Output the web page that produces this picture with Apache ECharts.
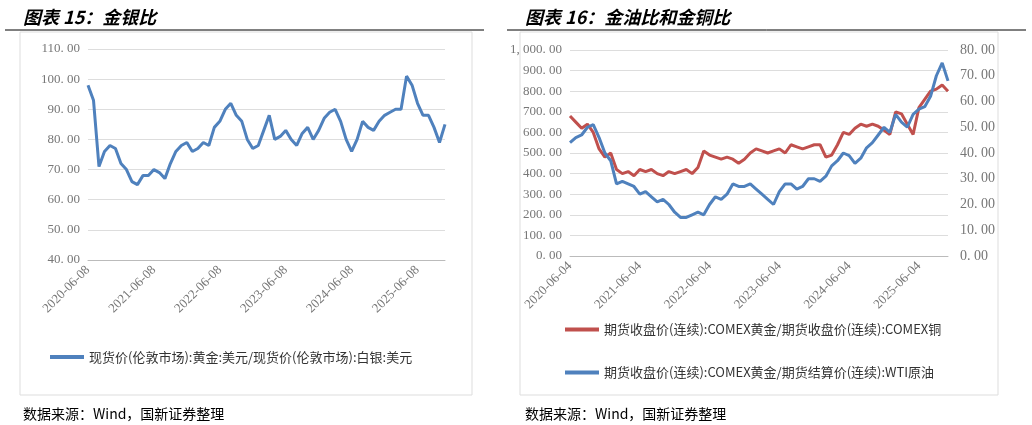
<!DOCTYPE html>
<html><head><meta charset="utf-8">
<script src="https://cdn.jsdelivr.net/npm/echarts@6/dist/echarts.min.js"></script>
<style>body{margin:0;background:#fff}#c{width:1032px;height:425px}</style>
</head><body><div id="c"></div>
<script>
// 月度日期
var months = [];
for (var y = 2020; y <= 2025; y++) {
    for (var m = 1; m <= 12; m++) {
        if ((y == 2020 && m < 6) || (y == 2025 && m > 11)) continue;
        months.push(y + '-' + (m < 10 ? '0' + m : m));
    }
}
var dates15 = months.map(function (d) { return d + '-08'; });
var dates16 = months.map(function (d) { return d + '-04'; });

// 金银比
var goldSilver = [98, 93, 71, 76, 78, 77, 72, 70, 66, 65, 68, 68, 70, 69, 67, 72, 76, 78, 79, 76, 77, 79, 78, 84, 86, 90, 92, 88, 86, 80, 77, 78, 83, 88, 80, 81, 83, 80, 78, 82, 84, 80, 83, 87, 89, 90, 86, 80, 76, 80, 86, 84, 83, 86, 88, 89, 90, 90, 101, 98, 92, 88, 88, 84, 79, 85];
// 金铜比（左轴）
var goldCopper = [680, 650, 620, 640, 600, 520, 480, 500, 420, 400, 410, 390, 420, 410, 420, 400, 390, 410, 400, 410, 420, 400, 430, 510, 490, 480, 470, 480, 470, 450, 470, 500, 520, 510, 500, 510, 520, 500, 540, 530, 520, 530, 540, 540, 480, 490, 540, 600, 590, 620, 640, 630, 640, 630, 610, 590, 700, 690, 640, 590, 720, 760, 800, 810, 830, 800];
// 金油比（右轴）
var goldOil = [44, 46, 47, 50, 51, 46, 40, 37, 28, 29, 28, 27, 24, 25, 23, 21, 22, 20, 17, 15, 15, 16, 17, 16, 20, 23, 22, 24, 28, 27, 27, 28, 26, 24, 22, 20, 25, 28, 28, 26, 27, 30, 30, 29, 31, 35, 37, 40, 39, 36, 38, 42, 44, 47, 50, 48, 55, 52, 50, 55, 57, 58, 62, 70, 75, 68];

var serif = 'Liberation Serif, Noto Sans CJK SC';
var lbl = { color: '#777', fontFamily: serif, fontSize: 13 };
function fmt(v) { return v.toFixed(2).replace('.', '. ').replace(/\B(?=(\d{3})+(?!\d))/g, ', '); }
function xLabel(dates, tag) {
    return {
        color: '#777', fontFamily: serif, fontSize: 13, rotate: 45,
        interval: function (i, v) { return v.slice(5) == tag; },
        margin: 8
    };
}
var cjk = 'Noto Sans CJK SC';

var chart = echarts.init(document.getElementById('c'));
chart.setOption({
    animation: false,
    title: [
        { text: '图表 15：金银比', left: 18, top: 3, textStyle: { fontSize: 18, fontStyle: 'italic', fontWeight: 'bold', color: '#000', fontFamily: cjk } },
        { text: '图表 16：金油比和金铜比', left: 520, top: 3, textStyle: { fontSize: 18, fontStyle: 'italic', fontWeight: 'bold', color: '#000', fontFamily: cjk } },
        { text: '数据来源：Wind，国新证券整理', left: 18, top: 402, textStyle: { fontSize: 14, fontWeight: 'normal', color: '#000', fontFamily: cjk } },
        { text: '数据来源：Wind，国新证券整理', left: 520, top: 402, textStyle: { fontSize: 14, fontWeight: 'normal', color: '#000', fontFamily: cjk } }
    ],
    graphic: [
        { type: 'line', shape: { x1: 5, y1: 30, x2: 484, y2: 30 }, style: { stroke: '#000', lineWidth: 1 } },
        { type: 'line', shape: { x1: 507, y1: 30, x2: 1026, y2: 30 }, style: { stroke: '#000', lineWidth: 1 } },
        { type: 'rect', shape: { x: 20, y: 32, width: 452, height: 363 }, style: { fill: 'none', stroke: '#ddd' } },
        { type: 'rect', shape: { x: 520, y: 32, width: 478, height: 363 }, style: { fill: 'none', stroke: '#ddd' } }
    ],
    legend: [
        { data: ['现货价(伦敦市场):黄金:美元/现货价(伦敦市场):白银:美元'], left: 45, top: 342, itemWidth: 34, itemHeight: 4, icon: 'rect',
          textStyle: { fontFamily: cjk, fontSize: 13, color: '#333', width: 372, overflow: 'break', lineHeight: 20 } },
        { data: ['期货收盘价(连续):COMEX黄金/期货收盘价(连续):COMEX铜'], left: 560, top: 318, itemWidth: 34, itemHeight: 4, icon: 'rect',
          textStyle: { fontFamily: cjk, fontSize: 13, color: '#333' } },
        { data: ['期货收盘价(连续):COMEX黄金/期货结算价(连续):WTI原油'], left: 560, top: 361, itemWidth: 34, itemHeight: 4, icon: 'rect',
          textStyle: { fontFamily: cjk, fontSize: 13, color: '#333' } }
    ],
    grid: [
        { left: 88, top: 49, width: 357, height: 211 },
        { left: 570, top: 50, width: 378, height: 206 }
    ],
    xAxis: [
        { type: 'category', gridIndex: 0, data: dates15, boundaryGap: false,
          axisLine: { lineStyle: { color: '#bbb' } }, axisTick: { show: false }, axisLabel: xLabel(dates15, '06-08') },
        { type: 'category', gridIndex: 1, data: dates16, boundaryGap: false,
          axisLine: { lineStyle: { color: '#bbb' } }, axisTick: { show: false }, axisLabel: xLabel(dates16, '06-04') }
    ],
    yAxis: [
        { type: 'value', gridIndex: 0, min: 40, max: 110, interval: 10,
          axisLabel: Object.assign({ formatter: fmt }, lbl), splitLine: { lineStyle: { color: '#ddd' } } },
        { type: 'value', gridIndex: 1, min: 0, max: 1000, interval: 100,
          axisLabel: Object.assign({ formatter: fmt }, lbl), splitLine: { lineStyle: { color: '#ddd' } } },
        { type: 'value', gridIndex: 1, min: 0, max: 80, interval: 10, position: 'right',
          axisLabel: Object.assign({ formatter: fmt, margin: 12 }, lbl, { fontSize: 14 }), splitLine: { show: false } }
    ],
    series: [
        { name: '现货价(伦敦市场):黄金:美元/现货价(伦敦市场):白银:美元', type: 'line', xAxisIndex: 0, yAxisIndex: 0,
          data: goldSilver, showSymbol: false, lineStyle: { width: 3, color: '#4f81bd' }, itemStyle: { color: '#4f81bd' } },
        { name: '期货收盘价(连续):COMEX黄金/期货收盘价(连续):COMEX铜', type: 'line', xAxisIndex: 1, yAxisIndex: 1,
          data: goldCopper, showSymbol: false, lineStyle: { width: 3, color: '#c0504d' }, itemStyle: { color: '#c0504d' } },
        { name: '期货收盘价(连续):COMEX黄金/期货结算价(连续):WTI原油', type: 'line', xAxisIndex: 1, yAxisIndex: 2,
          data: goldOil, showSymbol: false, lineStyle: { width: 3, color: '#4f81bd' }, itemStyle: { color: '#4f81bd' } }
    ]
});
</script>
</body></html>
